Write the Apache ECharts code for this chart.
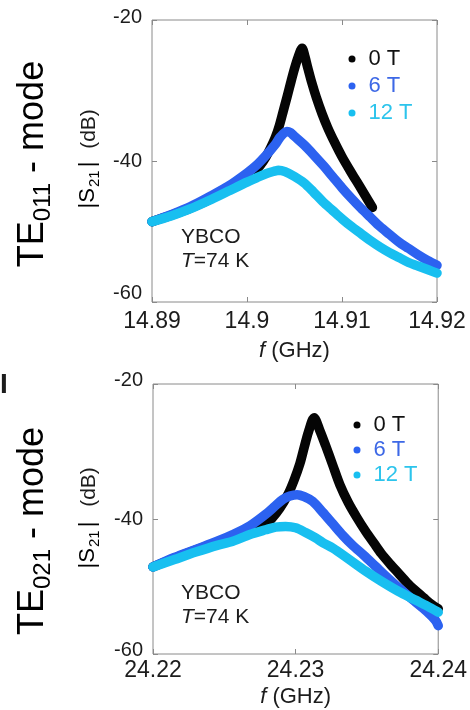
<!DOCTYPE html>
<html>
<head>
<meta charset="utf-8">
<script src="https://cdn.jsdelivr.net/npm/echarts@6/dist/echarts.min.js"></script>
<style>
  html, body { margin: 0; padding: 0; background: #fff; }
  #chart { width: 470px; height: 710px; }
</style>
</head>
<body>
<div id="chart"></div>
<script>
// TE011 mode transmission |S21| vs frequency (GHz)
const te011Ticks = [14.89, 14.9, 14.91, 14.92];
const te011Freq0T = [14.890, 14.892, 14.894, 14.896, 14.898, 14.900, 14.9007, 14.9014, 14.902, 14.9025, 14.903, 14.9034, 14.9038, 14.9042, 14.9046, 14.905, 14.9054, 14.9058, 14.9061, 14.9064, 14.9068, 14.9073, 14.9079, 14.9085, 14.9092, 14.910, 14.911, 14.912, 14.9132];
const te011dB0T   = [-48.6, -47.7, -46.7, -45.5, -44.0, -42.4, -41.6, -40.6, -39.4, -38.1, -36.6, -35.0, -33.0, -31.0, -28.9, -26.9, -25.2, -24.0, -25.2, -26.8, -28.8, -31.0, -33.3, -35.3, -37.3, -39.4, -41.7, -43.9, -46.6];
const te011Freq6T = [14.890, 14.892, 14.894, 14.896, 14.898, 14.900, 14.901, 14.902, 14.903, 14.9035, 14.9042, 14.9046, 14.905, 14.906, 14.907, 14.908, 14.909, 14.910, 14.911, 14.912, 14.913, 14.914, 14.915, 14.916, 14.917, 14.918, 14.919, 14.920];
const te011dB6T   = [-48.6, -47.6, -46.5, -45.1, -43.6, -41.7, -40.6, -39.2, -37.6, -36.6, -35.8, -36.0, -36.5, -37.7, -39.1, -40.6, -42.2, -43.8, -45.3, -46.7, -48.0, -49.3, -50.4, -51.5, -52.4, -53.3, -54.1, -54.8];
const te011Freq12T = [14.890, 14.892, 14.894, 14.896, 14.898, 14.900, 14.901, 14.902, 14.903, 14.9033, 14.904, 14.905, 14.906, 14.907, 14.908, 14.909, 14.910, 14.911, 14.912, 14.913, 14.914, 14.915, 14.916, 14.917, 14.918, 14.919, 14.920];
const te011dB12T   = [-48.6, -47.8, -46.8, -45.6, -44.3, -43.0, -42.4, -41.8, -41.4, -41.3, -41.5, -42.2, -43.1, -44.4, -45.8, -47.0, -48.2, -49.3, -50.3, -51.3, -52.2, -53.0, -53.7, -54.4, -54.9, -55.4, -55.9];

// TE021 mode transmission |S21| vs frequency (GHz)
const te021Ticks = [24.22, 24.23, 24.24];
const te021Freq0T = [24.220, 24.2215, 24.223, 24.2245, 24.226, 24.2266, 24.2272, 24.2277, 24.2283, 24.2289, 24.2295, 24.2299, 24.2303, 24.2306, 24.2309, 24.2313, 24.2317, 24.2321, 24.2326, 24.2331, 24.2337, 24.2343, 24.2349, 24.2355, 24.236, 24.2366, 24.2372, 24.2378, 24.2384, 24.239, 24.2395, 24.240];
const te021dB0T   = [-47.1, -45.8, -44.6, -43.5, -42.6, -42.3, -41.9, -41.2, -40.0, -38.4, -36.2, -34.2, -31.8, -29.4, -27.1, -25.0, -26.9, -29.1, -32.0, -34.9, -37.6, -39.8, -41.8, -43.6, -45.1, -46.6, -48.0, -49.4, -50.6, -51.7, -52.6, -53.3];
const te021Freq6T = [24.220, 24.2215, 24.223, 24.2245, 24.2256, 24.2268, 24.2279, 24.2286, 24.2291, 24.2296, 24.2301, 24.2306, 24.2312, 24.2319, 24.2326, 24.2333, 24.234, 24.2348, 24.2356, 24.2365, 24.2374, 24.2383, 24.2392, 24.2398, 24.240];
const te021dB6T   = [-47.1, -45.7, -44.5, -43.3, -42.3, -41.0, -39.3, -38.0, -37.1, -36.6, -36.4, -36.7, -37.4, -39.0, -40.7, -42.4, -43.9, -45.4, -47.0, -48.8, -50.5, -52.1, -53.7, -55.0, -55.8];
const te021Freq12T = [24.220, 24.2215, 24.223, 24.2245, 24.2256, 24.2268, 24.2279, 24.2286, 24.2293, 24.230, 24.2307, 24.2314, 24.2319, 24.2326, 24.2337, 24.2349, 24.236, 24.2372, 24.2384, 24.2395, 24.240];
const te021dB12T   = [-47.1, -46.0, -44.9, -43.9, -43.3, -42.3, -41.6, -41.2, -41.1, -41.3, -42.0, -42.8, -43.5, -44.3, -45.9, -47.7, -49.2, -50.7, -52.0, -53.2, -53.8];

const fieldNames = ['0 T', '6 T', '12 T'];
const dbTicks = [-60, -40, -20];

const FONT = '"Liberation Sans", Arial, Helvetica, sans-serif';
const TEXT = '#1c1c1c';
const LINE_COLORS = ['#050505', '#2c62f0', '#18bff0'];
const LEGEND_TEXT = ['#111111', '#3d68e6', '#2cc4ec'];
const FRAME = '#8a8a8a';

const pairs = (xs, ys) => xs.map((x, i) => [x, ys[i]]);

function xAxes(ticks, gridIndex, labelMargin, nameGap) {
  const base = {
    type: 'value', gridIndex,
    min: ticks[0], max: ticks[ticks.length - 1],
    interval: +(ticks[1] - ticks[0]).toFixed(4),
    splitLine: { show: false },
    axisLine: { show: false },
    axisTick: { show: true, inside: true, length: 5, lineStyle: { color: FRAME } }
  };
  return [
    Object.assign({}, base, {
      position: 'bottom',
      axisLabel: { fontFamily: FONT, fontSize: 23, color: TEXT, margin: labelMargin, showMinLabel: true, showMaxLabel: true },
      name: '{i|f} (GHz)', nameLocation: 'middle', nameGap,
      nameTextStyle: { fontFamily: FONT, fontSize: 22, color: TEXT, rich: { i: { fontFamily: FONT, fontSize: 22, fontStyle: 'italic', color: TEXT } } }
    }),
    Object.assign({}, base, { position: 'top', axisLabel: { show: false } })
  ];
}

function yAxes(gridIndex, upTop, upBottom) {
  const base = {
    type: 'value', gridIndex,
    min: dbTicks[0], max: dbTicks[dbTicks.length - 1], interval: 20,
    splitLine: { show: false },
    axisLine: { show: false },
    axisTick: { show: true, inside: true, length: 5, lineStyle: { color: FRAME } }
  };
  const tok = { fontFamily: FONT, fontSize: 20, color: TEXT };
  return [
    Object.assign({}, base, {
      position: 'left',
      axisLabel: {
        margin: 10, fontFamily: FONT, fontSize: 20, color: TEXT,
        formatter: v => v === dbTicks[0] ? '{lo|' + v + '}' : (v === dbTicks[dbTicks.length - 1] ? '{hi|' + v + '}' : '{n|' + v + '}'),
        rich: {
          lo: Object.assign({ padding: [0, 0, upBottom * 2, 0] }, tok),
          hi: Object.assign({ padding: [0, 0, upTop * 2, 0] }, tok),
          n: tok
        }
      }
    }),
    Object.assign({}, base, { position: 'right', axisLabel: { show: false } })
  ];
}

function lines(freqs, dbs, xIdx, yIdx) {
  return freqs.map((f, k) => ({
    name: fieldNames[k], type: 'line',
    xAxisIndex: xIdx, yAxisIndex: yIdx,
    data: pairs(f, dbs[k]),
    showSymbol: false, smooth: 0.3, clip: false,
    color: LINE_COLORS[k],
    lineStyle: { width: 9.5, color: LINE_COLORS[k], cap: 'round', join: 'round' },
    z: 2 + k
  }));
}

function legend(left, top, gap) {
  return {
    orient: 'vertical', left, top, itemGap: gap,
    icon: 'circle', itemWidth: 23, itemHeight: 7,
    selectedMode: false,
    textStyle: { fontFamily: FONT, fontSize: 22 },
    data: fieldNames.map((n, k) => ({ name: n, textStyle: { color: LEGEND_TEXT[k], fontFamily: FONT, fontSize: 22 } }))
  };
}

function modeTitle(sub, x, y) {
  return {
    type: 'text', x, y, rotation: Math.PI / 2,
    style: {
      text: '{m|TE}{s|' + sub + '}{m| - mode}',
      align: 'center', verticalAlign: 'middle',
      rich: {
        m: { fontFamily: FONT, fontSize: 36, lineHeight: 44, color: TEXT },
        s: { fontFamily: FONT, fontSize: 24, lineHeight: 24, verticalAlign: 'bottom', color: TEXT }
      }
    }
  };
}

// |S21| (dB) axis title, drawn as two rotated pieces
function s21Name(x, ySymbol, yUnit) {
  return [
    {
      type: 'text', x, y: ySymbol, rotation: Math.PI / 2,
      style: {
        text: '{m||S}{s|21}{m||}',
        align: 'center', verticalAlign: 'middle',
        rich: {
          m: { fontFamily: FONT, fontSize: 22, lineHeight: 28, color: TEXT, padding: [0, 1, 0, 1] },
          s: { fontFamily: FONT, fontSize: 15, lineHeight: 15, verticalAlign: 'bottom', color: TEXT, padding: [0, 2, 0, 0] }
        }
      }
    },
    {
      type: 'text', x: x + 1, y: yUnit, rotation: Math.PI / 2,
      style: { text: '(dB)', font: '21px "Liberation Sans", Arial, sans-serif', fontFamily: FONT, fontSize: 21, fill: TEXT, align: 'center', verticalAlign: 'middle' }
    }
  ];
}

function sampleNote(x, y) {
  return {
    type: 'text', x, y,
    style: {
      text: 'YBCO\n{i|T}=74 K',
      fontFamily: FONT, fontSize: 21, lineHeight: 24, fill: TEXT,
      align: 'left', verticalAlign: 'top',
      rich: { i: { fontFamily: FONT, fontSize: 21, fontStyle: 'italic', lineHeight: 24, color: TEXT } }
    }
  };
}

const chart = echarts.init(document.getElementById('chart'), null, { renderer: 'canvas' });
chart.setOption({
  animation: false,
  backgroundColor: '#ffffff',
  grid: [
    { left: 152, top: 20, width: 285, height: 282, show: true, borderColor: FRAME, borderWidth: 1, backgroundColor: 'transparent' },
    { left: 153, top: 384, width: 287, height: 270, show: true, borderColor: FRAME, borderWidth: 1, backgroundColor: 'transparent' }
  ],
  xAxis: [].concat(xAxes(te011Ticks, 0, 8, 38), xAxes(te021Ticks, 1, 5, 32)),
  yAxis: [].concat(yAxes(0, 3, 9), yAxes(1, 4, 4)),
  legend: [legend(343.5, 43, 5), legend(348.5, 409, 3)],
  series: [].concat(
    lines([te011Freq0T, te011Freq6T, te011Freq12T], [te011dB0T, te011dB6T, te011dB12T], 0, 0),
    lines([te021Freq0T, te021Freq6T, te021Freq12T], [te021dB0T, te021dB6T, te021dB12T], 2, 2)
  ),
  graphic: [
    modeTitle('011', 33, 164),
    modeTitle('021', 33, 531),
    ...s21Name(88, 185, 129),
    ...s21Name(88, 545, 487),
    sampleNote(181, 225),
    sampleNote(181, 581),
    { type: 'text', x: 0, y: 385, style: { text: 'I', fontFamily: FONT, fontSize: 28, fontWeight: 'bold', fill: TEXT, align: 'left', verticalAlign: 'middle' } }
  ]
});
</script>
</body>
</html>
